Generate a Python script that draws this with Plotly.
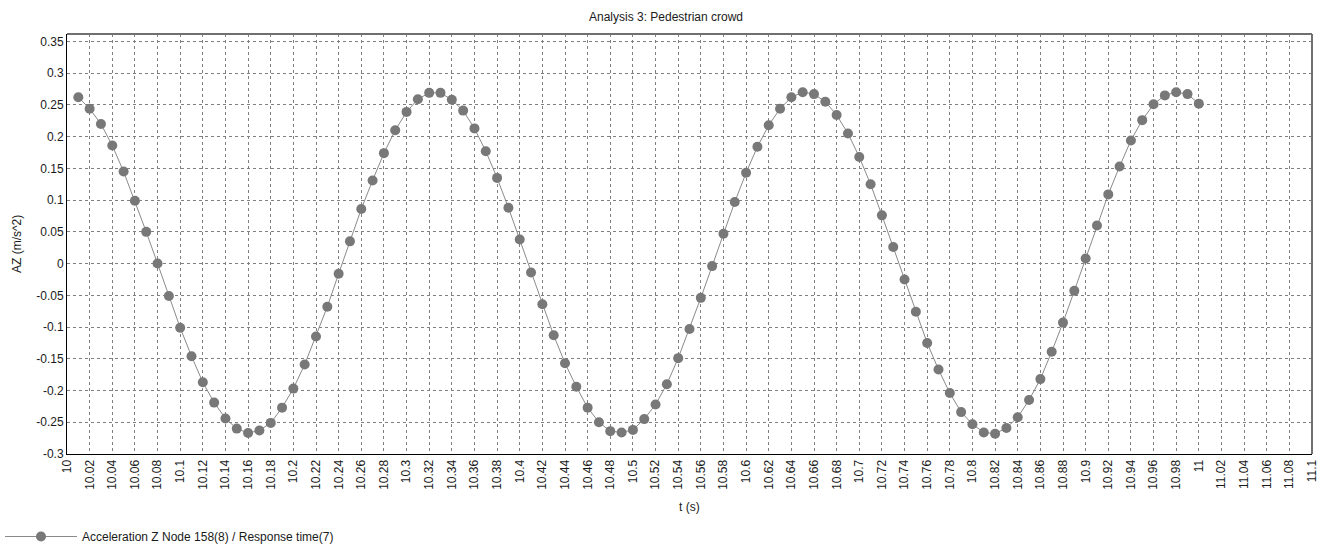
import plotly.graph_objects as go

t_values = [round(10.01 + 0.01 * i, 2) for i in range(100)]
az_values = [
    0.262, 0.244, 0.220, 0.186, 0.145, 0.099, 0.050, 0.000, -0.051, -0.101,
    -0.146, -0.187, -0.219, -0.244, -0.260, -0.267, -0.263, -0.251, -0.227, -0.197,
    -0.159, -0.115, -0.068, -0.016, 0.035, 0.086, 0.131, 0.174, 0.210, 0.239,
    0.259, 0.269, 0.269, 0.258, 0.241, 0.213, 0.177, 0.135, 0.088, 0.038,
    -0.014, -0.064, -0.113, -0.157, -0.194, -0.227, -0.250, -0.264, -0.266, -0.262,
    -0.245, -0.222, -0.190, -0.149, -0.103, -0.054, -0.004, 0.047, 0.097, 0.143,
    0.184, 0.218, 0.244, 0.262, 0.270, 0.267, 0.255, 0.234, 0.205, 0.168,
    0.125, 0.076, 0.026, -0.025, -0.076, -0.125, -0.167, -0.204, -0.234, -0.253,
    -0.266, -0.268, -0.259, -0.242, -0.215, -0.182, -0.139, -0.093, -0.043, 0.008,
    0.060, 0.109, 0.153, 0.194, 0.226, 0.251, 0.265, 0.270, 0.267, 0.252,
]

x_tick_vals = [round(10 + 0.02 * i, 2) for i in range(56)]
x_tick_text = [("%g" % v) for v in x_tick_vals]
y_tick_vals = [round(-0.3 + 0.05 * i, 2) for i in range(14)]
y_tick_text = [("%g" % v) for v in y_tick_vals]

title_text = "Analysis 3: Pedestrian crowd"
x_title = "t (s)"
y_title = "AZ (m/s^2)"
series_name = "Acceleration Z Node 158(8) / Response time(7)"

fig = go.Figure()
fig.add_trace(go.Scatter(
    x=t_values, y=az_values, mode="lines+markers", name=series_name,
    line=dict(color="#8a8a8a", width=1),
    marker=dict(color="#787878", size=10, symbol="circle"),
))

W, H = 1332, 544
ML, MR, MT, MB = 67, 20, 34, 90
PW, PH = W - ML - MR, H - MT - MB
font_family = "Liberation Sans, Arial, sans-serif"
fig.update_layout(
    width=W, height=H,
    margin=dict(l=ML, r=MR, t=MT, b=MB, autoexpand=False),
    paper_bgcolor="white", plot_bgcolor="white",
    font=dict(family=font_family, size=12, color="#1a1a1a"),
    title=dict(text=title_text, x=0.5, xanchor="center", y=1 - 17 / H, yanchor="middle",
               font=dict(size=12, color="#1a1a1a")),
    showlegend=True,
    legend=dict(x=0.0, xref="container", xanchor="left", y=22 / H, yref="container",
                yanchor="top", bgcolor="rgba(0,0,0,0)", font=dict(size=12),
                itemwidth=72),
    xaxis=dict(
        range=[10, 11.1], tickmode="array", tickvals=x_tick_vals, ticktext=x_tick_text,
        tickangle=-90, showgrid=True, gridcolor="#808080", griddash="3px,3px", gridwidth=1,
        showline=True, linecolor="black", linewidth=1, ticks="", zeroline=False,
        automargin=False, tickfont=dict(size=12),
    ),
    yaxis=dict(
        range=[-0.3, 0.3617], tickmode="array", tickvals=y_tick_vals, ticktext=y_tick_text,
        showgrid=True, gridcolor="#808080", griddash="3px,3px", gridwidth=1,
        showline=True, linecolor="black", linewidth=1, ticks="", zeroline=False,
        automargin=False, tickfont=dict(size=12),
    ),
)
fig.add_annotation(text=x_title, xref="paper", yref="paper", x=0.5, y=-(507 - (H - MB)) / PH,
                   xanchor="center", yanchor="middle", showarrow=False, font=dict(size=12))
fig.add_annotation(text=y_title, xref="paper", yref="paper", x=-(ML - 17) / PW, y=0.5,
                   xanchor="center", yanchor="middle", textangle=-90, showarrow=False,
                   font=dict(size=12))
fig.add_shape(type="line", xref="paper", yref="paper", x0=0, x1=1, y0=1, y1=1,
              line=dict(color="#707070", width=2))
fig.add_shape(type="line", xref="paper", yref="paper", x0=1, x1=1, y0=0, y1=1,
              line=dict(color="#707070", width=2))
fig.write_html("out.html", config={"responsive": False, "displayModeBar": False},
               post_script="document.body.style.margin='0px';document.body.style.overflow='hidden';")
